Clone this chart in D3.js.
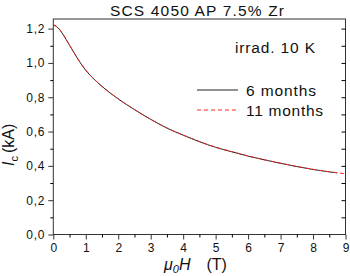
<!DOCTYPE html>
<html>
<head>
<meta charset="utf-8">
<script src="https://cdn.jsdelivr.net/npm/d3@7"></script>
<style>
  body { margin: 0; background: #fff; }
  svg { font-family: "Liberation Sans", Arial, sans-serif; }
</style>
</head>
<body>
<svg id="chart"></svg>
<script>
// field (T) and critical current (kA)
const field6 = [0, 0.1, 0.2, 0.3, 0.4, 0.5, 0.7, 0.8, 0.9, 1.0, 1.1, 1.25, 1.5, 2.0, 2.5, 3.0, 3.5, 4.0, 4.5, 5.0, 5.5, 6.0, 6.5, 7.0, 7.5, 8.0, 8.5, 8.75];
const ic6 = [1.221, 1.212, 1.193, 1.166, 1.135, 1.103, 1.040, 1.010, 0.982, 0.957, 0.935, 0.906, 0.863, 0.790, 0.728, 0.671, 0.620, 0.579, 0.541, 0.508, 0.482, 0.457, 0.435, 0.415, 0.396, 0.379, 0.365, 0.359];
const field11 = [0, 0.1, 0.2, 0.3, 0.4, 0.5, 0.7, 0.8, 0.9, 1.0, 1.1, 1.25, 1.5, 2.0, 2.5, 3.0, 3.5, 4.0, 4.5, 5.0, 5.5, 6.0, 6.5, 7.0, 7.5, 8.0, 8.5, 8.75, 8.95];
const ic11 = [1.222, 1.213, 1.194, 1.167, 1.136, 1.104, 1.041, 1.011, 0.983, 0.958, 0.936, 0.907, 0.864, 0.791, 0.729, 0.672, 0.621, 0.580, 0.542, 0.509, 0.483, 0.458, 0.436, 0.416, 0.397, 0.380, 0.366, 0.360, 0.355];
const xTicks = [0, 1, 2, 3, 4, 5, 6, 7, 8, 9];
const yTicks = [0, 0.2, 0.4, 0.6, 0.8, 1.0, 1.2];
const seriesNames = ["6 months", "11 months"];

const W = 350, H = 276;
const margin = { top: 19, right: 4.5, bottom: 41.5, left: 53.3 };
const w = W - margin.left - margin.right,
      h = H - margin.top - margin.bottom;

const svg = d3.select('#chart').attr('width', W).attr('height', H);
const g = svg.append('g').attr('transform', `translate(${margin.left},${margin.top})`);

const x = d3.scaleLinear().domain([0, 9]).range([0, w]);
const y = d3.scaleLinear().domain([0, 1.256]).range([h, 0]);
const fmt = d => d3.format('.1f')(d).replace('.', ',');
const axisCol = '#333';

// frame
g.append('rect').attr('width', w).attr('height', h)
  .attr('fill', 'none').attr('stroke', axisCol).attr('stroke-width', 1);

// minor ticks
const yMinor = d3.range(0.1, 1.25, 0.2);
const xMinor = d3.range(0.5, 9, 1);
g.append('g').call(d3.axisLeft(y).tickValues(yMinor).tickSize(3).tickFormat(''))
  .call(a => a.select('.domain').remove());
g.append('g').attr('transform', `translate(0,${h})`)
  .call(d3.axisBottom(x).tickValues(xMinor).tickSize(3).tickFormat(''))
  .call(a => a.select('.domain').remove());
g.append('g').attr('transform', `translate(${w},0)`)
  .call(d3.axisRight(y).tickValues(d3.range(0.1, 1.25, 0.1)).tickSize(-4).tickFormat(''))
  .call(a => a.select('.domain').remove());

// major axes
const yAx = g.append('g')
  .call(d3.axisLeft(y).tickValues(yTicks).tickSize(5).tickPadding(3).tickFormat(fmt))
  .call(a => a.select('.domain').remove());
const xAx = g.append('g').attr('transform', `translate(0,${h})`)
  .call(d3.axisBottom(x).tickValues(xTicks).tickSize(5).tickPadding(4).tickFormat(d3.format('d')))
  .call(a => a.select('.domain').remove());

[yAx, xAx].forEach(a => {
  a.selectAll('line').attr('stroke', axisCol);
  a.selectAll('text').attr('font-size', 12).attr('fill', '#111')
    .attr('font-family', '"Liberation Sans", Arial, sans-serif');
});
yAx.selectAll('text').attr('letter-spacing', '0.8px');

// curves
const line = d3.line().x(d => x(d[0])).y(d => y(d[1])).curve(d3.curveMonotoneX);
g.append('path').datum(d3.zip(field6, ic6)).attr('d', line)
  .attr('fill', 'none').attr('stroke', '#222').attr('stroke-width', 1);
g.append('path').datum(d3.zip(field11, ic11)).attr('d', line)
  .attr('fill', 'none').attr('stroke', '#ff2020').attr('stroke-width', 1)
  .attr('stroke-dasharray', '4,3');

// title
svg.append('text').attr('x', 110).attr('y', 15.5)
  .attr('font-size', 15.5).attr('fill', '#111')
  .attr('textLength', 174).attr('lengthAdjust', 'spacing')
  .text('SCS 4050 AP 7.5% Zr');

// annotation + legend
svg.append('text').attr('x', 235).attr('y', 53).attr('font-size', 15.5).attr('fill', '#111')
  .attr('textLength', 80).attr('lengthAdjust', 'spacing').text('irrad. 10 K');

const legend = svg.append('g');
const legY = [90, 110];
legend.append('line').attr('x1', 197).attr('x2', 238).attr('y1', legY[0]).attr('y2', legY[0])
  .attr('stroke', '#222').attr('stroke-width', 1);
legend.append('line').attr('x1', 197).attr('x2', 238).attr('y1', legY[1]).attr('y2', legY[1])
  .attr('stroke', '#ff2020').attr('stroke-width', 1).attr('stroke-dasharray', '4,3');
legend.selectAll('text.lab').data(seriesNames).enter().append('text')
  .attr('class', 'lab')
  .attr('x', 246).attr('y', (d, i) => legY[i] + 5.5)
  .attr('font-size', 15.5).attr('fill', '#111')
  .attr('textLength', (d, i) => i === 0 ? 70 : 77).attr('lengthAdjust', 'spacing')
  .text(d => d);

// y label
const yl = svg.append('text').attr('transform', 'translate(14,166) rotate(-90)')
  .attr('font-size', 16).attr('fill', '#111');
yl.append('tspan').attr('font-style', 'italic').text('I');
yl.append('tspan').attr('font-size', 11).attr('dy', 4).text('c');
yl.append('tspan').attr('dy', -4).attr('dx', 3).text('(kA)');

// x label
const xl = svg.append('text').attr('x', 164).attr('y', 270)
  .attr('font-size', 16).attr('fill', '#111');
xl.append('tspan').attr('font-style', 'italic').text('μ');
xl.append('tspan').attr('font-style', 'italic').attr('font-size', 11).attr('dy', 3).text('0');
xl.append('tspan').attr('font-style', 'italic').attr('dy', -3).text('H');
xl.append('tspan').attr('dx', 16).text('(T)');
</script>
</body>
</html>
